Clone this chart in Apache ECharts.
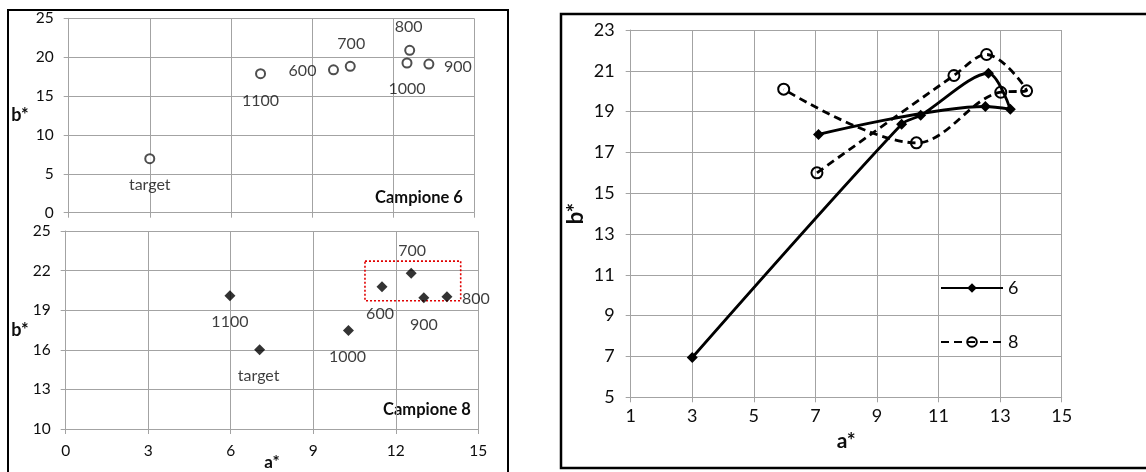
<!DOCTYPE html>
<html><head><meta charset="utf-8">
<script src="https://cdn.jsdelivr.net/npm/echarts@6/dist/echarts.min.js"></script>
<style>html,body{margin:0;padding:0;background:#fff}#c{width:1146px;height:472px}</style>
</head><body><div id="c"></div>
<script>
// temperatures / sample states
const pointNames = ['target', '600', '700', '800', '900', '1000', '1100'];
// Campione 6
const a6 = [3.0, 9.8, 10.42, 12.62, 13.33, 12.52, 7.1];
const b6 = [6.95, 18.38, 18.82, 20.88, 19.12, 19.25, 17.88];
// Campione 8
const a8 = [7.05, 11.5, 12.56, 13.86, 13.02, 10.28, 5.97];
const b8 = [16.0, 20.77, 21.8, 20.02, 19.95, 17.47, 20.1];
// highlighted region (Campione 8 panel)
const box8 = [[10.88, 22.72], [14.36, 19.72]];
// tick values
const topYTicks = [0, 5, 10, 15, 20, 25];
const leftXTicks = [0, 3, 6, 9, 12, 15];
const botYTicks = [10, 13, 16, 19, 22, 25];
const rightXTicks = [1, 3, 5, 7, 9, 11, 13, 15];
const rightYTicks = [5, 7, 9, 11, 13, 15, 17, 19, 21, 23];
const seriesNames = ['6', '8'];

const FONT = 'Lato';
const TXT = '#0d0d0d';
const gridColor = '#a3a3a3';
const labelOff6 = {'target':[0,26],'600':[-31,1],'700':[1,-23],'800':[-1,-23],'900':[29,3],'1000':[0,26],'1100':[0,27]};
const labelOff8 = {'target':[-1,26],'600':[-2,27],'700':[1,-22],'800':[29,2],'900':[0,27],'1000':[-1,26],'1100':[0,26]};

function pts(a, b) { return a.map((x, i) => [x, b[i]]); }
function labelled(a, b, offs) {
  return a.map((x, i) => ({
    value: [x, b[i]], name: pointNames[i],
    label: { show: true, formatter: pointNames[i], position: 'inside', offset: offs[pointNames[i]],
      color: TXT, fontFamily: FONT, fontSize: 16 }
  }));
}
function valAxis(o) {
  return Object.assign({
    type: 'value',
    nameMoveOverlap: false,
    axisLine: { show: true, lineStyle: { color: gridColor, width: 1 } },
    splitLine: { show: true, lineStyle: { color: gridColor, width: 1 } }
  }, o);
}
function tick(vals) { return { show: true, length: 5, lineStyle: { color: gridColor }, customValues: vals }; }
function lab(vals, size, margin) { return { color: TXT, fontFamily: FONT, fontSize: size, margin: margin, customValues: vals }; }
function nameStyle(size) { return { fontFamily: FONT, fontWeight: 'bold', fontSize: size, color: TXT }; }

const chart = echarts.init(document.getElementById('c'), null, { renderer: 'canvas' });
chart.setOption({
  animation: false,
  backgroundColor: '#fff',
  grid: [
    { left: 68.7, right: 1146 - 474, top: 18.3, height: 194.4, outerBoundsMode: 'none', containLabel: false },
    { left: 65.7, right: 1146 - 478.3, top: 231, height: 198, outerBoundsMode: 'none', containLabel: false },
    { left: 630.7, right: 1146 - 1061.7, top: 30, height: 367.3, outerBoundsMode: 'none', containLabel: false }
  ],
  xAxis: [
    valAxis({ gridIndex: 0, min: 0, max: 15, interval: 3, axisLabel: { show: false }, axisTick: tick(leftXTicks) }),
    valAxis({ gridIndex: 1, min: 0, max: 15, interval: 3, name: 'a*', nameLocation: 'middle', nameGap: 25,
      nameTextStyle: nameStyle(17), axisLabel: lab(leftXTicks, 15.5, 14), axisTick: tick(leftXTicks) }),
    valAxis({ gridIndex: 2, min: 1, max: 15, interval: 2, name: 'a*', nameLocation: 'middle', nameGap: 33,
      nameTextStyle: nameStyle(21), axisLabel: lab(rightXTicks, 18, 10), axisTick: tick(rightXTicks) })
  ],
  yAxis: [
    valAxis({ gridIndex: 0, min: 0, max: 25, interval: 5, name: 'b*', nameLocation: 'middle', nameRotate: 0, nameGap: 40,
      nameTextStyle: nameStyle(18), axisLabel: lab(topYTicks, 15.5, 15), axisTick: tick(topYTicks) }),
    valAxis({ gridIndex: 1, min: 10, max: 25, interval: 3, name: 'b*', nameLocation: 'middle', nameRotate: 0, nameGap: 37,
      nameTextStyle: nameStyle(18), axisLabel: lab(botYTicks, 15.5, 15), axisTick: tick(botYTicks) }),
    valAxis({ gridIndex: 2, min: 5, max: 23, interval: 2, name: 'b*', nameLocation: 'middle', nameGap: 44,
      nameTextStyle: nameStyle(22), axisLabel: lab(rightYTicks, 18, 16), axisTick: tick(rightYTicks) })
  ],
  legend: {
    orient: 'vertical', left: 935, top: 274, itemWidth: 62, itemHeight: 12, itemGap: 36,
    textStyle: { fontFamily: FONT, fontSize: 18, color: TXT },
    data: seriesNames
  },
  series: [
    { type: 'scatter', xAxisIndex: 0, yAxisIndex: 0, symbol: 'emptyCircle', symbolSize: 9,
      itemStyle: { color: '#222', borderWidth: 1.4 }, data: labelled(a6, b6, labelOff6) },
    { type: 'scatter', xAxisIndex: 1, yAxisIndex: 1, symbol: 'diamond', symbolSize: 11,
      itemStyle: { color: '#000' }, data: labelled(a8, b8, labelOff8),
      markArea: { silent: true,
        itemStyle: { color: 'rgba(0,0,0,0)', borderColor: '#e00000', borderWidth: 1.6, borderType: [2, 2] },
        data: [[{ coord: box8[0] }, { coord: box8[1] }]] } },
    { name: seriesNames[0], type: 'line', xAxisIndex: 2, yAxisIndex: 2, smooth: 0.3,
      symbol: 'diamond', symbolSize: 11, showAllSymbol: true,
      lineStyle: { color: '#000', width: 2.8 }, itemStyle: { color: '#000' },
      data: pts(a6, b6) },
    { name: seriesNames[1], type: 'line', xAxisIndex: 2, yAxisIndex: 2, smooth: 0.35,
      symbol: 'circle', symbolSize: 11, showAllSymbol: true,
      lineStyle: { color: '#000', width: 2.8, type: [8, 5] },
      itemStyle: { color: 'rgba(255,255,255,0)', borderColor: '#000', borderWidth: 2 },
      data: pts(a8, b8) }
  ],
  graphic: [
    { type: 'rect', shape: { x: 8, y: 10, width: 500, height: 480 }, style: { fill: 'none', stroke: '#000', lineWidth: 2 }, silent: true },
    { type: 'rect', shape: { x: 561, y: 14, width: 620, height: 454 }, style: { fill: 'none', stroke: '#000', lineWidth: 2.5 }, silent: true },
    { type: 'text', x: 419, y: 198, style: { text: 'Campione 6', fontFamily: FONT, fontWeight: 'bold', fontSize: 16.5, fill: TXT, align: 'center', verticalAlign: 'middle' } },
    { type: 'text', x: 427, y: 410, style: { text: 'Campione 8', fontFamily: FONT, fontWeight: 'bold', fontSize: 16.5, fill: TXT, align: 'center', verticalAlign: 'middle' } }
  ]
});
</script></body></html>
